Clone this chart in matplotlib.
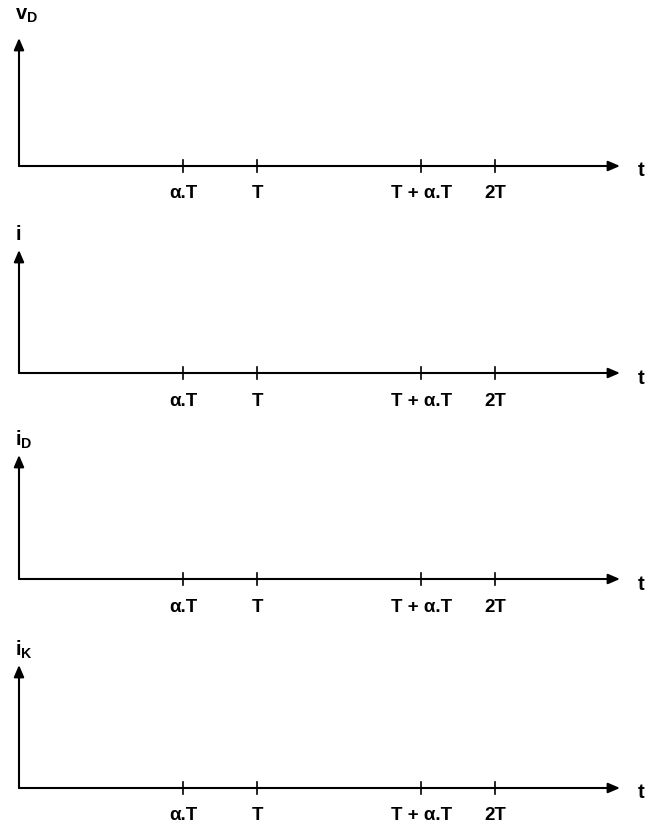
import matplotlib
matplotlib.use("Agg")
import matplotlib.pyplot as plt

plt.rcParams['font.family'] = ['Liberation Sans', 'DejaVu Sans']
plt.rcParams['mathtext.fontset'] = 'custom'
plt.rcParams['mathtext.bf'] = 'Liberation Sans:bold'
plt.rcParams['mathtext.rm'] = 'Liberation Sans:bold'
plt.rcParams['mathtext.default'] = 'bf'

# data
alpha = 0.69
tick_positions = [alpha, 1.0, 1.0 + alpha, 2.0]
tick_labels = ['α.T', 'T', 'T + α.T', '2T']
panel_labels = [r'$v_D$', r'$i$', r'$i_D$', r'$i_K$']
x_label = 't'

W, H = 658, 831
fig = plt.figure(figsize=(W / 100, H / 100), dpi=100)

axis_y_px = [166, 373, 579, 788]
arrow_len = [128, 123, 124, 123]
label_off = [151, 138, 139, 138]

x0_px = 19
unit_px = 238
xmin = -x0_px / unit_px
xmax = (W - x0_px) / unit_px
x_end = (620 - x0_px) / unit_px

below, above = 45, 165
for k in range(4):
    ay = axis_y_px[k]
    bottom = (H - (ay + below)) / H
    height = (below + above) / H
    ax = fig.add_axes([0, bottom, 1, height])
    ax.set_xlim(xmin, xmax)
    ax.set_ylim(-below, above)
    ax.axis('off')
    # x axis arrow
    ax.annotate('', xy=(x_end, 0), xytext=(0, 0),
                arrowprops=dict(arrowstyle='-|>,head_length=0.7,head_width=0.3',
                                lw=1.5, color='black', shrinkA=0, shrinkB=0))
    # y axis arrow
    ax.annotate('', xy=(0, arrow_len[k]), xytext=(0, 0),
                arrowprops=dict(arrowstyle='-|>,head_length=0.7,head_width=0.3',
                                lw=1.5, color='black', shrinkA=0, shrinkB=0))
    # ticks
    for p, lab in zip(tick_positions, tick_labels):
        ax.plot([p, p], [-6, 6], color='black', lw=1.2)
        ax.text(p, -28, lab, ha='center', va='center', fontsize=13.5,
                fontweight='bold')
    ax.text((641 - x0_px) / unit_px, -5, x_label, ha='center', va='center',
            fontsize=14.5, fontweight='bold')
    ax.text(-4 / unit_px, label_off[k], panel_labels[k], ha='left', va='center',
            fontsize=14.5)

fig.savefig('out.png', dpi=100, facecolor='white')
